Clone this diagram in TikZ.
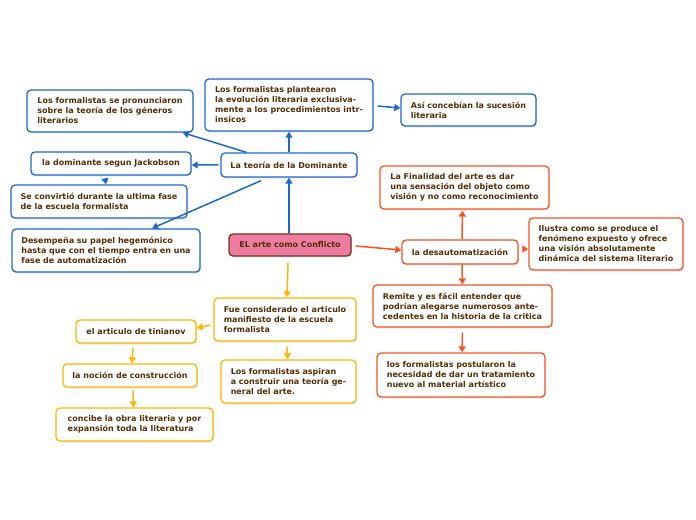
\documentclass[tikz,border=0pt]{standalone}
\usepackage{fontspec}
\setmainfont{DejaVu Sans}[BoldFont=DejaVu Sans Bold]
\usetikzlibrary{arrows.meta,calc,shadows}
\definecolor{cblue}{RGB}{28,104,204}
\definecolor{corange}{RGB}{244,84,34}
\definecolor{cyellow}{RGB}{255,180,0}
\definecolor{ctext}{RGB}{84,46,6}
\definecolor{cpink}{RGB}{238,124,160}
\definecolor{cpinkborder}{RGB}{110,52,36}
\tikzset{
  box/.style={rectangle, rounded corners=4bp, line width=1.3bp, fill=white,
    text=ctext, font=\fontsize{8bp}{10bp}\selectfont\bfseries, inner sep=0bp,
    drop shadow={shadow xshift=1bp, shadow yshift=-1.5bp, opacity=0.2}},
  bbox/.style={box, draw=cblue},
  obox/.style={box, draw=corange},
  ybox/.style={box, draw=cyellow},
  lbox/.style={align=left},
  cbox/.style={align=center},
  conn/.style={line width=1.5bp, -{Triangle[width=7bp,length=6bp]}},
  bline/.style={conn, draw=cblue, fill=cblue},
  oline/.style={conn, draw=corange, fill=corange},
  yline/.style={conn, draw=cyellow, fill=cyellow},
}
\begin{document}
\begin{tikzpicture}[x=1bp,y=-1bp]
\useasboundingbox (0,0) rectangle (696,520);
% central
\node[box, draw=cpinkborder, fill=cpink, cbox, minimum width=122bp, minimum height=22bp] (central) at (290,245) {EL arte como Conflicto};
% blue branch
\node[bbox, cbox, minimum width=136bp, minimum height=24bp] (dom) at (289,165) {La teoría de la Dominante};
\node[bbox, lbox, minimum width=168bp, minimum height=52bp] (plant) at (289,105) {Los formalistas plantearon\\la evolución literaria exclusiva-\\mente a los procedimientos intr-\\insicos};
\node[bbox, lbox, minimum width=135bp, minimum height=32bp] (asi) at (468.5,110) {Así concebían la sucesión\\literaria};
\node[bbox, lbox, minimum width=166bp, minimum height=42bp] (pron) at (110,111) {Los formalistas se pronunciaron\\sobre la teoría de los géneros\\literarios};
\node[bbox, cbox, minimum width=160bp, minimum height=23bp] (jack) at (111,163.5) {la dominante segun Jackobson};
\node[bbox, lbox, minimum width=176bp, minimum height=33bp] (conv) at (99,201.5) {Se convirtió durante la ultima fase\\de la escuela formalista};
\node[bbox, lbox, minimum width=188bp, minimum height=43bp] (desemp) at (106,250.5) {Desempeña su papel hegemónico\\hasta que con el tiempo entra en una\\fase de automatización};
% orange branch
\node[obox, cbox, minimum width=116bp, minimum height=24bp] (desauto) at (460,252) {la desautomatización};
\node[obox, lbox, minimum width=169bp, minimum height=43bp] (final) at (464.5,187.5) {La Finalidad del arte es dar\\una sensación del objeto como\\visión y no como reconocimiento};
\node[obox, lbox, minimum width=154bp, minimum height=52bp] (ilus) at (606,244) {Ilustra como se produce el\\fenómeno expuesto y ofrece\\una visión absolutamente\\dinámica del sistema literario};
\node[obox, lbox, minimum width=179bp, minimum height=42bp] (remite) at (462.5,306) {Remite y es fácil entender que\\podrían alegarse numerosos ante-\\cedentes en la historia de la critica};
\node[obox, lbox, minimum width=168bp, minimum height=44bp] (post) at (461,375) {los formalistas postularon la\\necesidad de dar un tratamiento\\nuevo al material artístico};
% yellow branch
\node[ybox, lbox, minimum width=142bp, minimum height=43bp] (fue) at (285,319.5) {Fue considerado el articulo\\manifiesto de la escuela\\formalista};
\node[ybox, lbox, minimum width=135bp, minimum height=43bp] (aspi) at (288.5,381.5) {Los formalistas aspiran\\a construir una teoría ge-\\neral del arte.};
\node[ybox, cbox, minimum width=120bp, minimum height=23bp] (tin) at (136,331.5) {el articulo de tinianov};
\node[ybox, cbox, minimum width=134bp, minimum height=23bp] (noc) at (130,375.5) {la noción de construcción};
\node[ybox, lbox, minimum width=157bp, minimum height=33bp] (conc) at (134.5,424.5) {concibe la obra literaria y por\\expansión toda la literatura};
% blue connectors
\draw[bline] ($(central.north)+(-1,0)$) -- ($(dom.south)$);
\draw[bline] (dom.north) -- (plant.south);
\draw[bline] ($(plant.east)+(4,1)$) -- ($(asi.west)+(0,-2)$);
\draw[bline] ($(dom.north west)+(26,0)$) -- ($(pron.south east)+(-11,0)$);
\draw[bline] ($(dom.west)+(-2,0)$) -- ($(jack.east)+(0,1.5)$);
\draw[bline] ($(jack.south)+(-6,3)$) -- ($(conv.north)+(7,0)$);
\draw[bline] ($(dom.south)+(-28,3)$) -- ($(desemp.north)+(46,0)$);
% orange connectors
\draw[oline] ($(central.east)+(4,1)$) -- ($(desauto.west)+(0,-2)$);
\draw[oline] ($(desauto.north)+(2,0)$) -- ($(final.south)+(-2,1)$);
\draw[oline] ($(desauto.east)+(4,-3)$) -- ($(ilus.west)+(0,5)$);
\draw[oline] ($(desauto.south)+(2,0)$) -- ($(remite.north)+(0,0)$);
\draw[oline] ($(remite.south)+(0,5)$) -- ($(post.north)+(1,0)$);
% yellow connectors
\draw[yline] ($(central.south)+(-2,6)$) -- ($(fue.north)+(2,0)$);
\draw[yline] ($(fue.west)+(-3,5.5)$) -- ($(tin.east)+(0,-3.5)$);
\draw[yline] ($(tin.south)+(-3,4)$) -- ($(noc.north)+(2,0)$);
\draw[yline] ($(noc.south)+(3,3)$) -- ($(conc.north)+(-1,0)$);
\draw[yline] ($(fue.south)+(2,5)$) -- ($(aspi.north)+(-1,0)$);
\end{tikzpicture}
\end{document}
